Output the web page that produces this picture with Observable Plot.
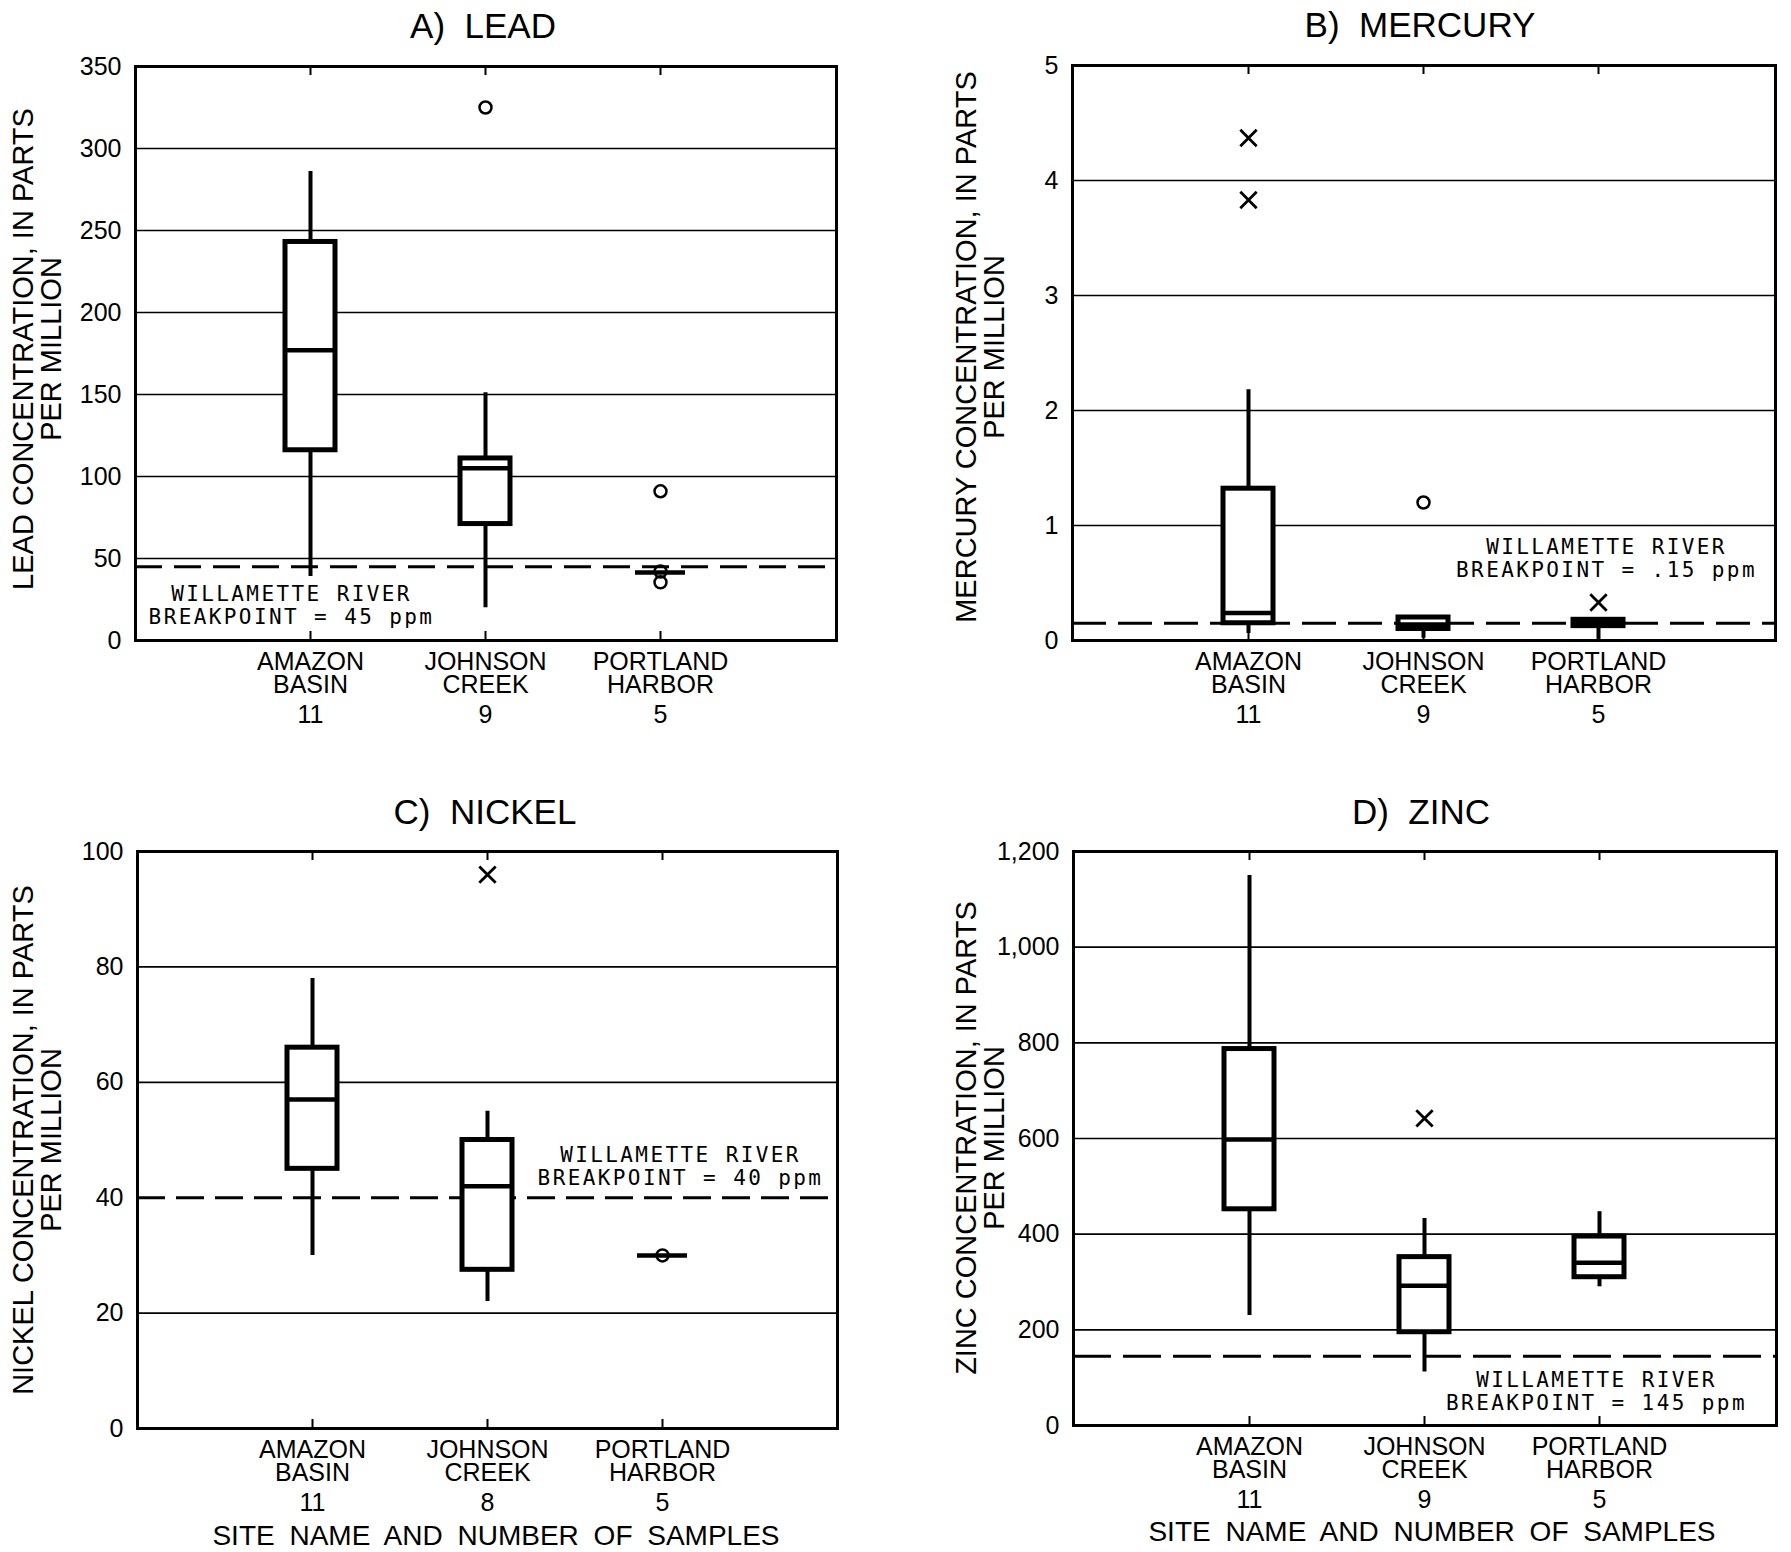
<!DOCTYPE html>
<html>
<head>
<meta charset="utf-8">
<script src="https://cdn.jsdelivr.net/npm/d3@7"></script>
<script src="https://cdn.jsdelivr.net/npm/@observablehq/plot@0.6"></script>
<style>
  body { margin: 0; background: #fff; }
  #page { position: relative; width: 1791px; height: 1552px; background: #fff; overflow: hidden;
          font-family: "Liberation Sans", Arial, sans-serif; color: #000; }
  .panel { position: absolute; }
  .title { position: absolute; transform: translate(-50%, -50%); font-size: 35px; line-height: 1; white-space: pre; }
  .ylab { position: absolute; transform: translate(-50%, -50%) rotate(-90deg); font-size: 29px; line-height: 28px;
          text-align: center; white-space: pre; }
  .xlab { position: absolute; transform: translate(-50%, -50%); font-size: 28px; line-height: 1; white-space: pre; word-spacing: 7px; }
  g[font-family="DejaVu Sans Mono"] text { letter-spacing: 2.4px; }
</style>
</head>
<body>
<div id="page"></div>
<script>
// ---------- data ----------
const sites = ["AMAZON BASIN", "JOHNSON CREEK", "PORTLAND HARBOR"];
const siteLines = ["AMAZON\nBASIN", "JOHNSON\nCREEK", "PORTLAND\nHARBOR"];

// A) Lead
const leadCounts = [11, 9, 5];
const leadLow = [39, 20, 41.5];
const leadQ1 = [116, 71, 41.5];
const leadMedian = [177, 105, 41.5];
const leadQ3 = [243, 111, 41.5];
const leadHigh = [286, 151, 41.5];
const leadOutSite = [1, 2, 2, 2];
const leadOutValue = [325, 91, 42, 35.5];
const leadOutSymbol = ["circle", "circle", "circle", "circle"];
const leadTicks = [0, 50, 100, 150, 200, 250, 300, 350];
const leadGrid = [50, 100, 150, 200, 250, 300];
const leadBreak = 45;
const leadBreakText = "WILLAMETTE RIVER\nBREAKPOINT = 45 ppm";

// B) Mercury
const mercuryCounts = [11, 9, 5];
const mercuryLow = [0.06, 0.02, 0.01];
const mercuryQ1 = [0.15, 0.1, 0.125];
const mercuryMedian = [0.24, 0.14, 0.15];
const mercuryQ3 = [1.32, 0.2, 0.18];
const mercuryHigh = [2.18, 0.2, 0.18];
const mercuryOutSite = [0, 0, 1, 2];
const mercuryOutValue = [4.37, 3.83, 1.2, 0.33];
const mercuryOutSymbol = ["times", "times", "circle", "times"];
const mercuryTicks = [0, 1, 2, 3, 4, 5];
const mercuryGrid = [1, 2, 3, 4];
const mercuryBreak = 0.15;
const mercuryBreakText = "WILLAMETTE RIVER\nBREAKPOINT = .15 ppm";

// C) Nickel
const nickelCounts = [11, 8, 5];
const nickelLow = [30, 22, 30];
const nickelQ1 = [45, 27.5, 30];
const nickelMedian = [57, 42, 30];
const nickelQ3 = [66, 50, 30];
const nickelHigh = [78, 55, 30];
const nickelOutSite = [1, 2];
const nickelOutValue = [96, 30];
const nickelOutSymbol = ["times", "circle"];
const nickelTicks = [0, 20, 40, 60, 80, 100];
const nickelGrid = [20, 60, 80];
const nickelBreak = 40;
const nickelBreakText = "WILLAMETTE RIVER\nBREAKPOINT = 40 ppm";

// D) Zinc
const zincCounts = [11, 9, 5];
const zincLow = [230, 112, 290];
const zincQ1 = [452, 195, 310];
const zincMedian = [598, 292, 340];
const zincQ3 = [787, 352, 395];
const zincHigh = [1150, 433, 447];
const zincOutSite = [1];
const zincOutValue = [642];
const zincOutSymbol = ["times"];
const zincTicks = [0, 200, 400, 600, 800, 1000, 1200];
const zincGrid = [200, 400, 600, 800, 1000];
const zincBreak = 145;
const zincBreakText = "WILLAMETTE RIVER\nBREAKPOINT = 145 ppm";

// ---------- drawing ----------
const page = document.getElementById("page");

function addDiv(cls, text, x, y) {
  const d = document.createElement("div");
  d.className = cls;
  d.textContent = text;
  d.style.left = x + "px";
  d.style.top = y + "px";
  page.appendChild(d);
}

function panel(o) {
  const boxes = sites.map((s, i) => ({
    site: s, label: siteLines[i], count: String(o.counts[i]),
    low: o.low[i], q1: o.q1[i], median: o.median[i], q3: o.q3[i], high: o.high[i]
  }));
  const outliers = o.outSite.map((k, i) => ({site: sites[k], value: o.outValue[i], symbol: o.outSymbol[i]}));
  const plotH = o.height - o.mt - o.mb;
  const chart = Plot.plot({
    width: o.width, height: o.height,
    marginLeft: o.ml, marginRight: o.mr, marginTop: o.mt, marginBottom: o.mb,
    style: {fontFamily: "Liberation Sans, Arial, sans-serif", color: "#000", background: "#fff", overflow: "visible"},
    x: {type: "band", domain: sites, paddingInner: 0.714, paddingOuter: 0.857, axis: null},
    y: {domain: [0, o.yMax], axis: null},
    marks: [
      Plot.ruleY(o.grid, {strokeWidth: 1.7}),
      Plot.ruleY([o.breakValue], {strokeWidth: 3, strokeDasharray: o.dash}),
      Plot.ruleX(boxes, {x: "site", y1: "low", y2: "high", strokeWidth: 4}),
      Plot.barY(boxes, {x: "site", y1: "q1", y2: "q3", fill: "white", stroke: "black", strokeWidth: 5}),
      Plot.tickY(boxes, {x: "site", y: "median", strokeWidth: 4.5}),
      Plot.dot(outliers.filter(d => d.symbol === "circle"), {x: "site", y: "value", symbol: "circle", r: 6, stroke: "black", strokeWidth: 2.5}),
      Plot.dot(outliers.filter(d => d.symbol === "times"), {x: "site", y: "value", symbol: "times", r: 7.5, stroke: "black", strokeWidth: 2.8}),
      Plot.tickX(sites, {x: d => d, insetBottom: plotH - 9, strokeWidth: 2}),
      Plot.tickX(sites, {x: d => d, insetTop: plotH - 9, strokeWidth: 2}),
      Plot.frame({strokeWidth: 3}),
      Plot.axisY(o.ticks, {tickSize: 0, tickPadding: 14, fontSize: 25, tickFormat: o.fmt, label: null}),
      Plot.text(boxes, {x: "site", text: "label", frameAnchor: "bottom", dy: 13, lineAnchor: "top", fontSize: 25, lineHeight: 0.92}),
      Plot.text(boxes, {x: "site", text: "count", frameAnchor: "bottom", dy: 65, lineAnchor: "top", fontSize: 25}),
      Plot.text([o.breakText], {x: () => sites[o.breakSite], y: () => o.breakValue, text: d => d, dx: o.breakDx, dy: o.breakDy,
        fontFamily: "DejaVu Sans Mono", fontSize: 21, lineHeight: 1.1, lineAnchor: "middle"})
    ]
  });
  chart.classList.add("panel");
  chart.style.left = o.left + "px";
  chart.style.top = o.top + "px";
  page.appendChild(chart);
}

const fmtInt = d3.format("d");
const fmtComma = d3.format(",");

panel({left: 0, top: 0, width: 896, height: 740, ml: 135, mr: 60, mt: 66, mb: 100, yMax: 350, dash: "27,12",
  counts: leadCounts, low: leadLow, q1: leadQ1, median: leadMedian, q3: leadQ3, high: leadHigh,
  outSite: leadOutSite, outValue: leadOutValue, outSymbol: leadOutSymbol,
  ticks: leadTicks, grid: leadGrid, fmt: fmtInt,
  breakValue: leadBreak, breakText: leadBreakText, breakSite: 0, breakDx: -19, breakDy: 38});

panel({left: 896, top: 0, width: 895, height: 740, ml: 176, mr: 16, mt: 65, mb: 100, yMax: 5, dash: "34,12",
  counts: mercuryCounts, low: mercuryLow, q1: mercuryQ1, median: mercuryMedian, q3: mercuryQ3, high: mercuryHigh,
  outSite: mercuryOutSite, outValue: mercuryOutValue, outSymbol: mercuryOutSymbol,
  ticks: mercuryTicks, grid: mercuryGrid, fmt: fmtInt,
  breakValue: mercuryBreak, breakText: mercuryBreakText, breakSite: 2, breakDx: 8, breakDy: -65});

panel({left: 0, top: 776, width: 896, height: 776, ml: 137, mr: 59, mt: 75, mb: 124, yMax: 100, dash: "28,11",
  counts: nickelCounts, low: nickelLow, q1: nickelQ1, median: nickelMedian, q3: nickelQ3, high: nickelHigh,
  outSite: nickelOutSite, outValue: nickelOutValue, outSymbol: nickelOutSymbol,
  ticks: nickelTicks, grid: nickelGrid, fmt: fmtInt,
  breakValue: nickelBreak, breakText: nickelBreakText, breakSite: 2, breakDx: 18, breakDy: -32});

panel({left: 896, top: 776, width: 895, height: 776, ml: 177, mr: 15, mt: 75, mb: 127, yMax: 1200, dash: "38,12",
  counts: zincCounts, low: zincLow, q1: zincQ1, median: zincMedian, q3: zincQ3, high: zincHigh,
  outSite: zincOutSite, outValue: zincOutValue, outSymbol: zincOutSymbol,
  ticks: zincTicks, grid: zincGrid, fmt: fmtComma,
  breakValue: zincBreak, breakText: zincBreakText, breakSite: 2, breakDx: -3, breakDy: 35});

// titles, axis labels
addDiv("title", "A)  LEAD", 483, 25);
addDiv("title", "B)  MERCURY", 1420, 24);
addDiv("title", "C)  NICKEL", 485, 811);
addDiv("title", "D)  ZINC", 1421, 811);

addDiv("ylab", "LEAD CONCENTRATION, IN PARTS\nPER MILLION", 37, 349);
addDiv("ylab", "MERCURY CONCENTRATION, IN PARTS\nPER MILLION", 980, 347);
addDiv("ylab", "NICKEL CONCENTRATION, IN PARTS\nPER MILLION", 37, 1140);
addDiv("ylab", "ZINC CONCENTRATION, IN PARTS\nPER MILLION", 980, 1138);

addDiv("xlab", "SITE NAME AND NUMBER OF SAMPLES", 496, 1536);
addDiv("xlab", "SITE NAME AND NUMBER OF SAMPLES", 1432, 1532);
</script>
</body>
</html>
